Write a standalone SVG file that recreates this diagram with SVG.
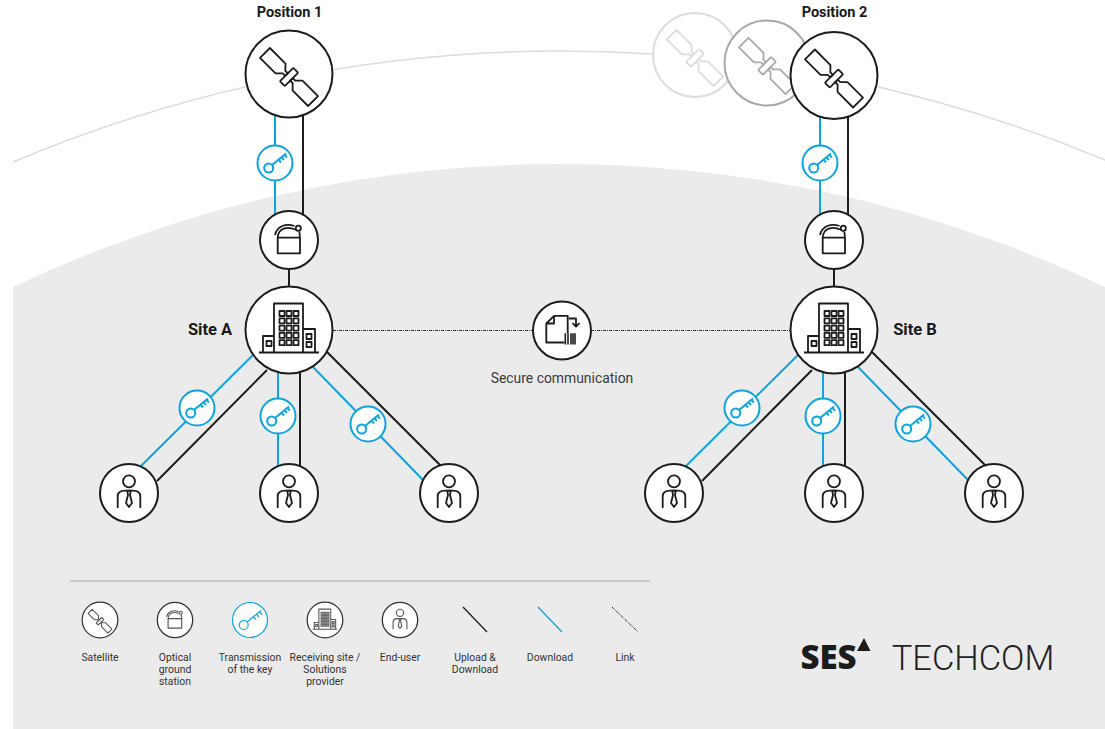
<svg xmlns="http://www.w3.org/2000/svg" width="1105" height="729" viewBox="0 0 1105 729">
<style>
text{font-family:Roboto,"Liberation Sans",sans-serif;fill:#222;text-anchor:middle}
.title{font-size:14.500px;font-weight:700;fill:#1a1a1a}
.site{font-size:16.500px;font-weight:700;fill:#1a1a1a}
.cap{font-size:13.900px;font-weight:400;fill:#3a3a3a}
.leg{font-size:10.400px;font-weight:400;fill:#333}
.node{fill:none;stroke:#1c1c1c;stroke-width:1.800;stroke-linejoin:round}
.disc{fill:#fff;stroke-width:2}
.keyn{fill:none;stroke:#0fa3dc;stroke-width:2}
.keyn .disc{stroke:#0fa3dc}
.blue{stroke:#0fa3dc;stroke-width:2;fill:none}
.blk{stroke:#1c1c1c;stroke-width:2;fill:none}
.dot{stroke:#333;stroke-width:1;stroke-dasharray:3 1 1 1;fill:none}
.lg{stroke:#555}
.lg .disc{stroke:#333}
.lg1{stroke-width:2.600}
.lg1 .disc{stroke-width:3}
.lg2{stroke-width:1.800}
.lg2 .disc{stroke-width:2.100}
</style>
<defs>
<g id="i-sat"><g transform="translate(0,3) rotate(45)"><path d="M-34,-7H-12L-7,-1.800H-3.500V1.800H-7L-12,7H-34Z"/><rect x="-3.500" y="-9.500" width="7" height="19" rx="1"/><path d="M34,-7H12L7,-1.800H3.500V1.800H7L12,7H34Z"/></g></g>
<g id="i-ogs"><rect x="-11.300" y="-2.300" width="22.300" height="15.600"/><path d="M-11.300,-2.300C-11,-12 -1,-14 6,-10.500"/><path d="M-14,-5C-12,-14 -3,-17 5.500,-14"/><path d="M11,-2.300L10.300,-8.500"/><circle cx="9.300" cy="-11.700" r="2.600"/></g>
<g id="i-bld"><path d="M-30,22.500H30M-15,22.500V-26.500H14V22.500M-15,6H-26V22.500M14,-1H26V22.500"/><rect x="-22.500" y="11" width="5" height="5"/><rect x="17.500" y="4" width="5" height="5"/><rect x="17.500" y="12" width="5" height="5"/><g><g id="wr"><rect x="-9.500" y="-19" width="5" height="5"/><rect x="-2.500" y="-19" width="5" height="5"/><rect x="4.500" y="-19" width="5" height="5"/></g><use href="#wr" y="7.300"/><use href="#wr" y="14.600"/><use href="#wr" y="21.900"/><use href="#wr" y="29.200"/></g></g>
<g id="i-usr"><circle cx="0" cy="-11.700" r="6"/><path d="M-11.300,15V3.500C-11.300,-1 -8,-2.300 -4,-2.300H4C8,-2.300 11.300,-1 11.300,3.500V15"/><path d="M-1.800,-2.300H1.800L1,2L3,10L0,14L-3,10L-1,2Z"/></g>
<g id="i-key"><circle cx="-6.300" cy="5" r="4.500"/><path d="M-3,2L11,-9.500M3.500,-3.300L6,-0.500M6.500,-5.800L9,-3M9.500,-8.200L12,-5.400"/></g>
<g id="i-doc"><path d="M5.700,2.700V-14.700H-8L-15.700,-7V12H2.300M-15.700,-7H-8V-14.700"/><path d="M6.700,-12H14V-4M10.500,-7.500L14,-3.800L17.500,-7.500"/><path d="M3.300,2.700V14M6,2.700V14M9,2.700V14M11,2.700V14M13,2.700V14" stroke-width="1.600"/></g>
</defs>
<g id="background">
<rect width="1105" height="729" fill="#fff"/>
<path d="M13,162A1410,1410 0 0 1 1105,160" fill="none" stroke="#dcdcdc" stroke-width="1.500"/>
<path d="M13,287A1273,1273 0 0 1 1105,287V729H13Z" fill="#ebebeb"/>
</g>
<g id="connectors">
<path class="blue" d="M275,110V225M141,466L255,353M278,360V470M313,367L424,481"/>
<path class="blk" d="M303,110V225M289,262V292M157,481L267,370M300,370V470M327,352L441,466"/>
<path class="blue" d="M820,110V225M686,466L800,353M823,360V470M858,367L969,481"/>
<path class="blk" d="M848,110V225M834,262V292M702,481L812,370M845,370V470M872,352L986,466"/>
<path class="dot" d="M333,330.500H790"/>
</g>
<g id="ghost-1" class="node" style="stroke:#dcdcdc" transform="translate(695,55)"><circle class="disc" r="42"/><use href="#i-sat" transform="scale(.97)"/></g>
<g id="ghost-2" class="node" style="stroke:#a8a8a8" transform="translate(767,63)"><circle class="disc" r="42.500"/><use href="#i-sat" transform="scale(.97)"/></g>
<g id="sat-1" class="node" transform="translate(289,74)"><circle class="disc" r="43.500"/><use href="#i-sat"/></g>
<g id="sat-2" class="node" transform="translate(834,75.500)"><circle class="disc" r="43.500"/><use href="#i-sat"/></g>
<g id="ogs-1" class="node" transform="translate(289,240)"><circle class="disc" r="29"/><use href="#i-ogs"/></g>
<g id="ogs-2" class="node" transform="translate(834,240)"><circle class="disc" r="29"/><use href="#i-ogs"/></g>
<g id="site-a" class="node" transform="translate(289,330)"><circle class="disc" r="43.500"/><use href="#i-bld"/></g>
<g id="site-b" class="node" transform="translate(834,330)"><circle class="disc" r="43.500"/><use href="#i-bld"/></g>
<g id="user-a1" class="node" transform="translate(129,493)"><circle class="disc" r="29"/><use href="#i-usr"/></g>
<g id="user-a2" class="node" transform="translate(289,493)"><circle class="disc" r="29"/><use href="#i-usr"/></g>
<g id="user-a3" class="node" transform="translate(449,493)"><circle class="disc" r="29"/><use href="#i-usr"/></g>
<g id="user-b1" class="node" transform="translate(674,493)"><circle class="disc" r="29"/><use href="#i-usr"/></g>
<g id="user-b2" class="node" transform="translate(834,493)"><circle class="disc" r="29"/><use href="#i-usr"/></g>
<g id="user-b3" class="node" transform="translate(994,493)"><circle class="disc" r="29"/><use href="#i-usr"/></g>
<g id="key-1" class="keyn" transform="translate(275,163)"><circle class="disc" r="17.500"/><use href="#i-key"/></g>
<g id="key-2" class="keyn" transform="translate(197,408)"><circle class="disc" r="17.500"/><use href="#i-key"/></g>
<g id="key-3" class="keyn" transform="translate(278,416)"><circle class="disc" r="17.500"/><use href="#i-key"/></g>
<g id="key-4" class="keyn" transform="translate(368,424)"><circle class="disc" r="17.500"/><use href="#i-key"/></g>
<g id="key-5" class="keyn" transform="translate(820,163)"><circle class="disc" r="17.500"/><use href="#i-key"/></g>
<g id="key-6" class="keyn" transform="translate(742,408)"><circle class="disc" r="17.500"/><use href="#i-key"/></g>
<g id="key-7" class="keyn" transform="translate(823,416)"><circle class="disc" r="17.500"/><use href="#i-key"/></g>
<g id="key-8" class="keyn" transform="translate(913,424)"><circle class="disc" r="17.500"/><use href="#i-key"/></g>
<g id="secure" class="node" transform="translate(562,330.500)"><circle class="disc" r="29"/><use href="#i-doc"/></g>
<g id="labels">
<text class="title" x="289.500" y="17">Position 1</text>
<text class="title" x="834.500" y="17">Position 2</text>
<text class="site" x="210" y="335">Site A</text>
<text class="site" x="915" y="335">Site B</text>
<text class="cap" x="562" y="383">Secure communication</text>
</g>
<g id="legend">
<path d="M70,581H650" stroke="#bdbdbd" stroke-width="1.500" fill="none"/>
<g id="leg-sat" class="node lg lg1" transform="translate(100,620) scale(.41)"><circle class="disc" r="43.500"/><use href="#i-sat"/></g>
<g id="leg-ogs" class="node lg lg2" transform="translate(175,620) scale(.61)"><circle class="disc" r="29"/><use href="#i-ogs"/></g>
<g id="leg-key" class="keyn" style="stroke-width:1.200px" transform="translate(250,620)"><circle class="disc" r="17.500" style="stroke-width:1.200px"/><use href="#i-key"/></g>
<g id="leg-bld" class="node lg lg1" transform="translate(325,620) scale(.41)"><circle class="disc" r="43.500"/><use href="#i-bld"/></g>
<g id="leg-usr" class="node lg lg2" transform="translate(400,620) scale(.61)"><circle class="disc" r="29"/><use href="#i-usr"/></g>
<path class="blk" style="stroke-width:1.300px" d="M463,607L487,632"/>
<path class="blue" style="stroke-width:1.300px" d="M538,607L562,632"/>
<path class="dot" d="M612,607L638,632"/>
<text class="leg" x="100" y="661">Satellite</text>
<text class="leg" x="175" y="661">Optical</text><text class="leg" x="175" y="673">ground</text><text class="leg" x="175" y="685">station</text>
<text class="leg" x="250" y="661">Transmission</text><text class="leg" x="250" y="673">of the key</text>
<text class="leg" x="325" y="661">Receiving site /</text><text class="leg" x="325" y="673">Solutions</text><text class="leg" x="325" y="685">provider</text>
<text class="leg" x="400" y="661">End-user</text>
<text class="leg" x="475" y="661">Upload &amp;</text><text class="leg" x="475" y="673">Download</text>
<text class="leg" x="550" y="661">Download</text>
<text class="leg" x="625" y="661">Link</text>
</g>
<g id="logo">
<text x="828.500" y="669" style="font-family:'Open Sans',sans-serif;font-size:33px;font-weight:800;fill:#1c1c1c">SES</text>
<path d="M864,638L870.500,651H857Z" fill="#1c1c1c"/>
<text x="973" y="670" style="font-size:34.500px;font-weight:300;fill:#222">TECHCOM</text>
</g>
</svg>
